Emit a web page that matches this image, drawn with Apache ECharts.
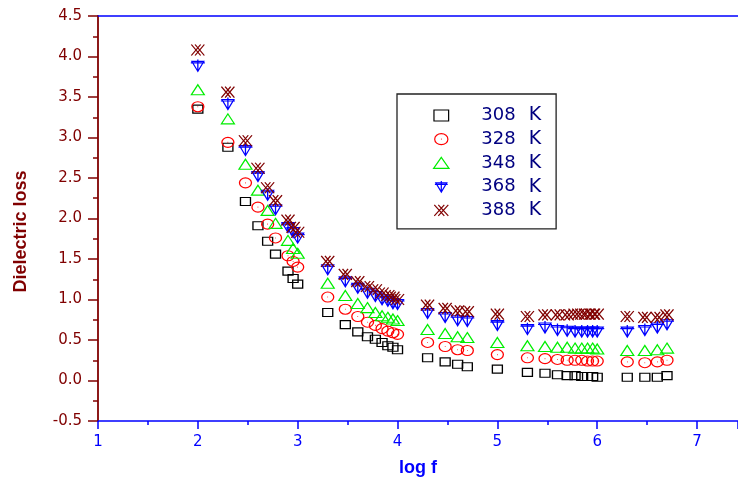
<!DOCTYPE html>
<html>
<head>
<meta charset="utf-8">
<script src="https://cdn.jsdelivr.net/npm/echarts@6/dist/echarts.min.js"></script>
<style>html,body{margin:0;padding:0;background:#fff}#c{width:738px;height:485px}</style>
</head>
<body>
<div id="c"></div>
<script>
// log f positions of the measured frequencies
const logF = [2, 2.301, 2.477, 2.602, 2.699, 2.778, 2.903, 2.954, 3,
  3.301, 3.477, 3.602, 3.699, 3.778, 3.845, 3.903, 3.954, 4,
  4.301, 4.477, 4.602, 4.699,
  5, 5.301, 5.477, 5.602, 5.699, 5.778, 5.845, 5.903, 5.954, 6,
  6.301, 6.477, 6.602, 6.699];
const seriesNames = ['308 K', '328 K', '348 K', '368 K', '388 K'];
const loss308 = [3.35, 2.88, 2.21, 1.91, 1.72, 1.56, 1.35, 1.26, 1.19,
  0.84, 0.69, 0.60, 0.54, 0.51, 0.47, 0.43, 0.41, 0.38,
  0.28, 0.23, 0.20, 0.17,
  0.14, 0.10, 0.09, 0.07, 0.06, 0.06, 0.05, 0.05, 0.05, 0.04,
  0.04, 0.04, 0.04, 0.06];
const loss328 = [3.38, 2.94, 2.44, 2.14, 1.93, 1.76, 1.54, 1.47, 1.40,
  1.03, 0.88, 0.79, 0.72, 0.68, 0.64, 0.61, 0.59, 0.57,
  0.47, 0.42, 0.38, 0.37,
  0.32, 0.28, 0.27, 0.26, 0.25, 0.25, 0.25, 0.24, 0.24, 0.24,
  0.23, 0.22, 0.23, 0.25];
const loss348 = [3.59, 3.23, 2.67, 2.35, 2.10, 1.94, 1.73, 1.63, 1.57,
  1.20, 1.05, 0.95, 0.90, 0.84, 0.80, 0.78, 0.76, 0.74,
  0.63, 0.58, 0.54, 0.53,
  0.47, 0.43, 0.42, 0.41, 0.41, 0.40, 0.40, 0.40, 0.40, 0.39,
  0.37, 0.37, 0.38, 0.40];
const loss368 = [3.89, 3.42, 2.85, 2.53, 2.30, 2.12, 1.90, 1.84, 1.77,
  1.38, 1.23, 1.15, 1.09, 1.05, 1.01, 0.99, 0.96, 0.95,
  0.84, 0.79, 0.75, 0.74,
  0.69, 0.64, 0.66, 0.63, 0.62, 0.61, 0.61, 0.61, 0.61, 0.61,
  0.61, 0.63, 0.66, 0.70];
const loss388 = [4.08, 3.56, 2.96, 2.62, 2.38, 2.22, 1.98, 1.89, 1.83,
  1.47, 1.31, 1.22, 1.16, 1.12, 1.08, 1.05, 1.03, 1.00,
  0.93, 0.89, 0.86, 0.85,
  0.82, 0.79, 0.81, 0.81, 0.81, 0.82, 0.82, 0.82, 0.82, 0.82,
  0.79, 0.78, 0.78, 0.81];
const yTicks = ['-0.5', '0.0', '0.5', '1.0', '1.5', '2.0', '2.5', '3.0', '3.5', '4.0', '4.5'];
const xTicks = ['1', '2', '3', '4', '5', '6', '7'];

const allValues = [loss308, loss328, loss348, loss368, loss388];
const colors = ['#000000', '#ff0000', '#00ee00', '#0000ff', '#800000'];
const symbols = [
  'path://M0,0 L12,0 L12,9 L0,9 Z',
  'path://M0,5 A6,5 0 1,1 12,5 A6,5 0 1,1 0,5 Z M5.7,5 L6.3,5',
  'path://M7,0 L14,10 L0,10 Z',
  'path://M1,2 L13,2 L7,12 Z M0,3.5 L14,3.5 M7,0 L7,12',
  'path://M0,0 L10,11 M0,11 L10,0 M4,0 L14,11 M4,11 L14,0'
];
const sizes = [[10, 8], [12, 10], [13, 10], [14, 12], [13, 11]];

const series = seriesNames.map((name, i) => ({
  name: name,
  type: 'scatter',
  symbol: symbols[i],
  symbolSize: sizes[i],
  data: logF.map((x, k) => [x, allValues[i][k]]),
  itemStyle: { color: 'rgba(0,0,0,0)', borderColor: colors[i], borderWidth: 1.2, opacity: 1 },
  emphasis: { disabled: true },
  z: 2 + i
}));

const chart = echarts.init(document.getElementById('c'), null, { renderer: 'canvas' });
chart.setOption({
  animation: false,
  backgroundColor: '#ffffff',
  grid: { left: 98, right: 0, top: 16, bottom: 64, containLabel: false },
  legend: {
    orient: 'vertical',
    left: 397,
    top: 94,
    padding: [11, 15, 8, 36],
    itemWidth: 70,
    itemHeight: 11,
    itemGap: 2.7,
    borderColor: '#222',
    borderWidth: 1.3,
    selectedMode: false,
    data: seriesNames.map((n, i) => ({
      name: n,
      icon: symbols[i],
      itemStyle: { color: 'rgba(0,0,0,0)', borderColor: colors[i], borderWidth: 1.2 }
    })),
    textStyle: {
      color: '#000080', fontSize: 18, fontFamily: 'DejaVu Sans', lineHeight: 21,
      rich: {
        n: { color: '#000080', fontSize: 18, fontFamily: 'DejaVu Sans', lineHeight: 21 },
        k: { color: '#000080', fontSize: 19, fontFamily: 'DejaVu Sans', lineHeight: 21, padding: [0, 0, 0, 13] }
      }
    },
    formatter: n => { const p = n.split(' '); return '{n|' + p[0] + '}{k|' + p[1] + '}'; }
  },
  xAxis: [{
    type: 'value',
    min: 1, max: 7.41, interval: 1,
    name: 'log f',
    nameLocation: 'middle',
    nameGap: 38,
    nameTextStyle: { color: '#0000ff', fontSize: 18, fontWeight: 'bold', fontFamily: 'Liberation Sans', verticalAlign: 'top' },
    axisLine: { show: true, onZero: false, lineStyle: { color: '#0000ff', width: 1.5 } },
    axisTick: { show: true, inside: false, length: 8, lineStyle: { color: '#0000ff', width: 1.5 } },
    minorTick: { show: true, splitNumber: 2, length: 4, lineStyle: { color: '#0000ff', width: 1.5 } },
    axisLabel: {
      color: '#0000ff', fontSize: 15, fontFamily: 'DejaVu Sans', margin: 14,
      showMaxLabel: false,
      formatter: v => { const s = String(Math.round(v)); return (Math.abs(v - Math.round(v)) < 1e-6 && xTicks.includes(s)) ? s : ''; }
    },
    splitLine: { show: false }
  }, {
    type: 'value',
    position: 'top',
    min: 1, max: 7.41, interval: 1,
    axisLine: { show: true, onZero: false, lineStyle: { color: '#0000ff', width: 1.5 } },
    axisTick: { show: false },
    axisLabel: { show: false },
    splitLine: { show: false }
  }],
  yAxis: {
    type: 'value',
    min: -0.5, max: 4.5, interval: 0.5,
    name: 'Dielectric loss',
    nameLocation: 'middle',
    nameGap: 68,
    nameRotate: 90,
    nameTextStyle: { color: '#800000', fontSize: 18, fontWeight: 'bold', fontFamily: 'Liberation Sans', padding: [0, 26, 0, 0] },
    axisLine: { show: true, onZero: false, lineStyle: { color: '#800000', width: 1.8 } },
    axisTick: { show: true, inside: false, length: 10, lineStyle: { color: '#800000', width: 1.5 } },
    minorTick: { show: true, splitNumber: 2, length: 5, lineStyle: { color: '#800000', width: 1.5 } },
    axisLabel: {
      color: '#800000', fontSize: 15, fontFamily: 'DejaVu Sans', margin: 16,
      formatter: v => { const s = v.toFixed(1); return yTicks.includes(s) ? s : ''; }
    },
    splitLine: { show: false }
  },
  series: series
});
</script>
</body>
</html>
